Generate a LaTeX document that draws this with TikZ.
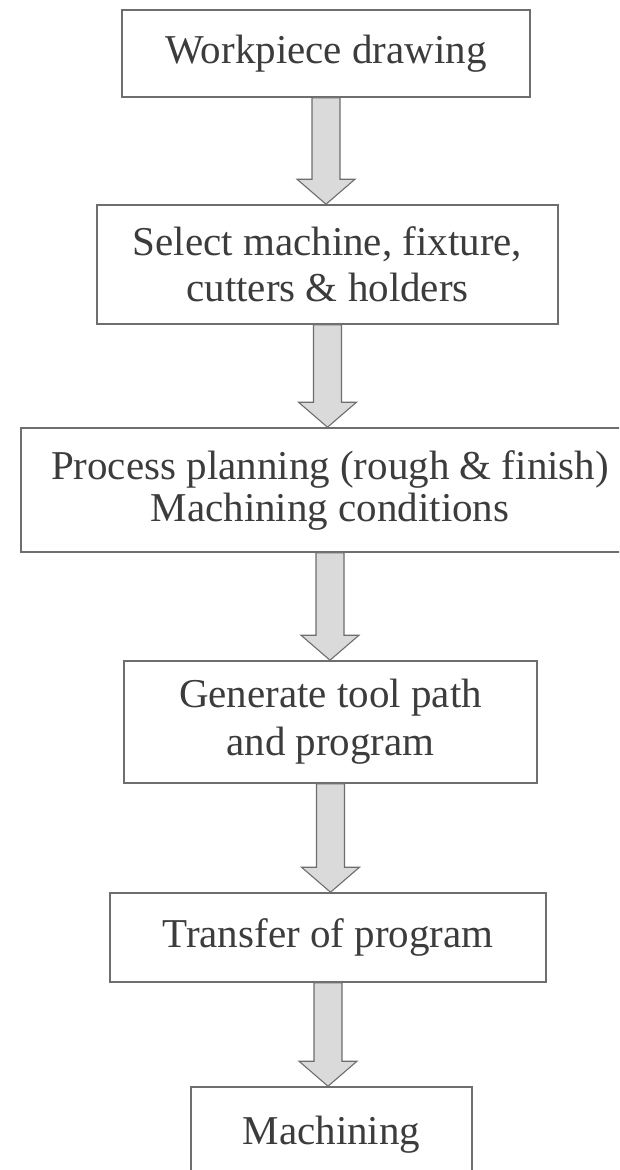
\documentclass[tikz,border=0pt]{standalone}
\usepackage{fontspec}
\setmainfont{Liberation Serif}
\usepackage{xcolor}
\usepackage{tikz}
\usetikzlibrary{calc}
\definecolor{ink}{HTML}{3C3C3C}
\definecolor{frame}{HTML}{6E6E6E}
\definecolor{shade}{HTML}{DADADA}
\tikzset{
  stage/.style={draw=frame, line width=1.6pt, text=ink, align=center, inner sep=0pt,
    font=\fontsize{41}{46}\selectfont},
  fatarrow/.style={draw=frame, fill=shade, line width=1.1pt, line join=miter},
}

\begin{document}
\begin{tikzpicture}[x=1pt,y=-1pt]
  \useasboundingbox (0,0) rectangle (619,1170);
  \fill[white] (0,0) rectangle (619,1170);
  \clip (0,0) rectangle (619,1170);
  \def\shaft{14pt}
  \def\head{29pt}
  \def\tip{25pt}

  \node[stage, minimum width=408pt, minimum height=87pt] (drawing) at (326,53.5) {Workpiece drawing};
  \node[stage, minimum width=461pt, minimum height=119pt] (select) at (327.5,264.5)
    {Select machine, fixture,\\cutters \& holders};
  \node[stage, minimum width=618pt, minimum height=124pt] (planning) at (330,490)
    {Process planning (rough \& finish)\\[-4pt]Machining conditions};
  \node[stage, minimum width=413pt, minimum height=122pt] (toolpath) at (330.5,722)
    {Generate tool path\\[2pt]and program};
  \node[stage, minimum width=436pt, minimum height=89pt] (transfer) at (328,937.5) {Transfer of program};
  \node[stage, minimum width=281pt, minimum height=96pt] (machining) at (331.5,1135) {Machining};

  % hollow block arrows between the stages
  \foreach \a/\b in {drawing/select, select/planning, planning/toolpath, toolpath/transfer, transfer/machining}{
    \draw[fatarrow] let \p1=(\a.south), \p2=(\b.north) in
      (\x1-\shaft,\y1) -- (\x1-\shaft,\y2+\tip) -- (\x1-\head,\y2+\tip) -- (\x1,\y2)
      -- (\x1+\head,\y2+\tip) -- (\x1+\shaft,\y2+\tip) -- (\x1+\shaft,\y1) -- cycle;
  }
\end{tikzpicture}
\end{document}
